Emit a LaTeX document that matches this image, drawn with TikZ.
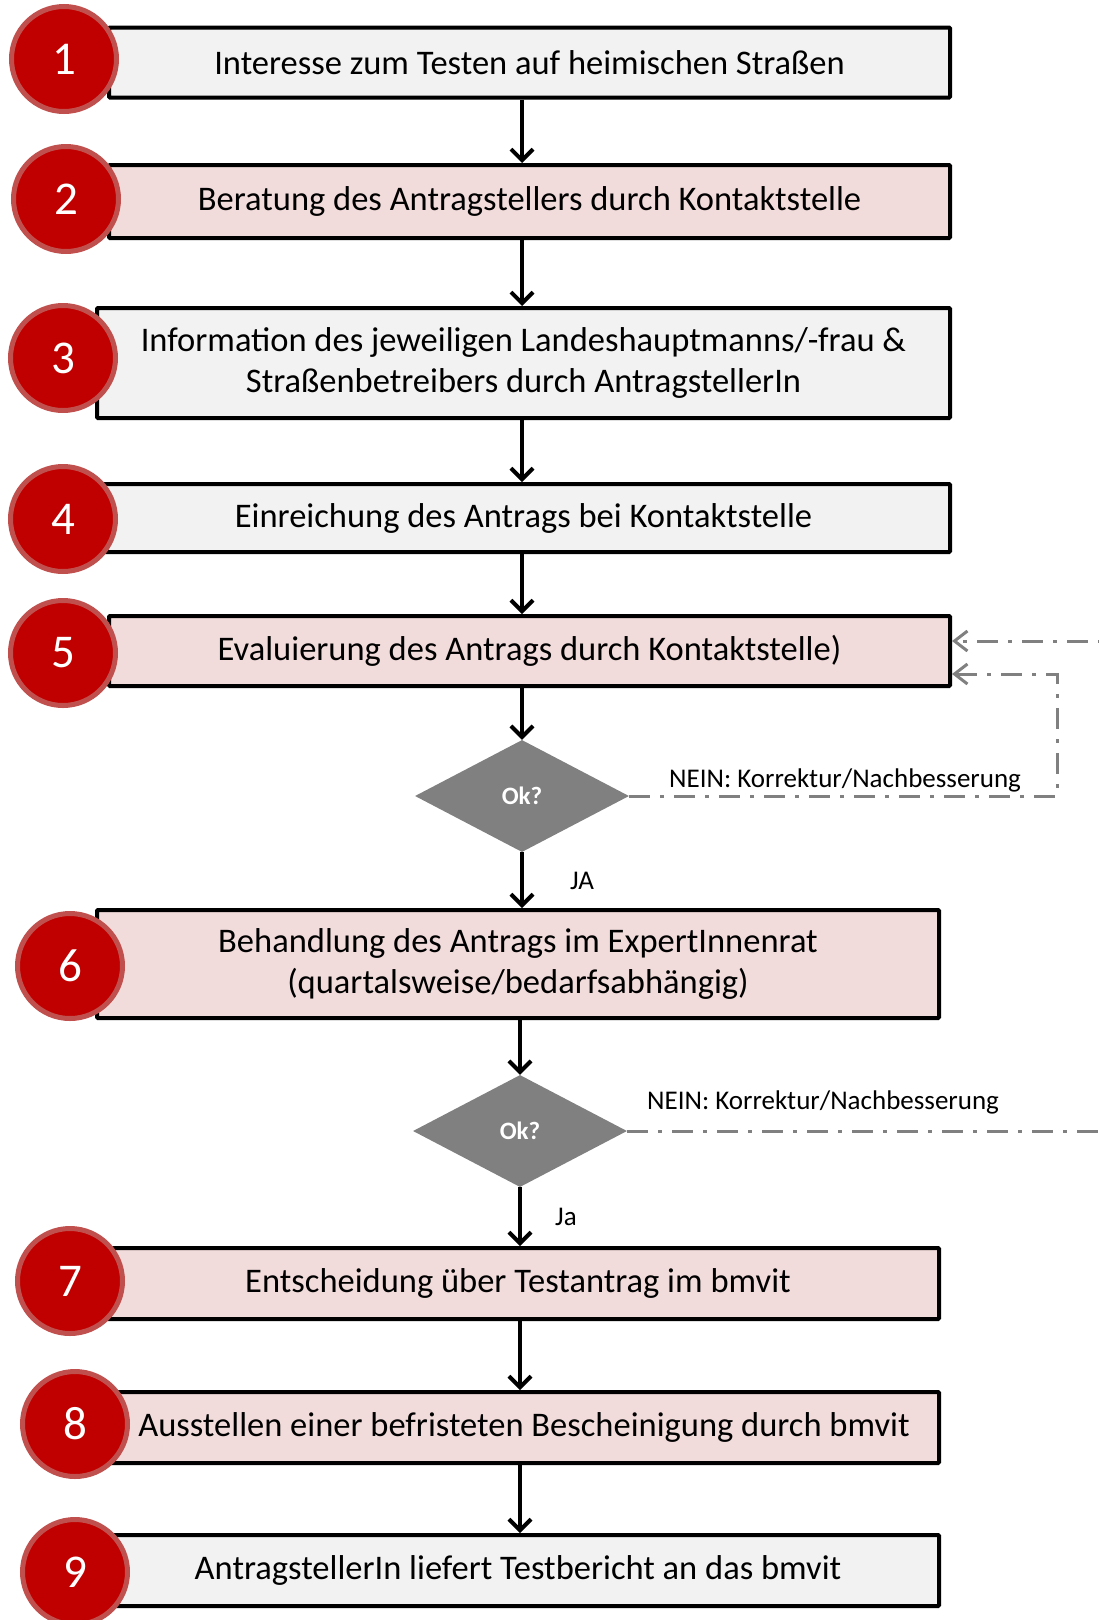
\documentclass[tikz,border=0pt]{standalone}
\usepackage{fontspec}
\setmainfont{Carlito}
\usetikzlibrary{shapes.geometric,arrows.meta}
\definecolor{boxgray}{HTML}{F2F2F2}
\definecolor{boxpink}{HTML}{F2DCDB}
\definecolor{numred}{HTML}{C00000}
\definecolor{numring}{HTML}{C0504D}
\definecolor{loopgray}{HTML}{808080}
\tikzset{
  stepbox/.style={draw=black,line width=4pt,rounded corners=1pt,inner sep=0pt,
    align=center,font=\fontsize{34.5}{41}\selectfont},
  graybox/.style={stepbox,fill=boxgray},
  pinkbox/.style={stepbox,fill=boxpink},
  numcircle/.style={circle,fill=numred,draw=numring,line width=5pt,minimum size=105pt,
    inner sep=0pt,text=white,font=\fontsize{47}{47}\selectfont},
  okdiamond/.style={diamond,fill=loopgray,inner sep=0pt,minimum width=214pt,minimum height=112pt,
    text=white,font=\fontsize{25}{25}\selectfont\bfseries},
  flow/.style={line width=4pt,-{Straight Barb[length=11pt,width=22pt]}},
  back/.style={loopgray,line width=3pt,dash pattern=on 21pt off 10pt on 4pt off 10pt,
    -{Straight Barb[length=13pt,width=20pt]}},
  note/.style={font=\fontsize{27}{27}\selectfont,inner sep=0pt}
}
\begin{document}
\begin{tikzpicture}[x=1pt,y=-1pt]
  \useasboundingbox (0,0) rectangle (1099,1620);
  \clip (0,0) rectangle (1099,1620);
  % steps
  \node[graybox,minimum width=841pt,minimum height=70pt] (b1) at (529.5,62.5) {Interesse zum Testen auf heimischen Straßen};
  \node[pinkbox,minimum width=841pt,minimum height=73pt] (b2) at (529.5,201.5) {Beratung des Antragstellers durch Kontaktstelle};
  \node[graybox,minimum width=853pt,minimum height=110pt] (b3) at (523.5,363) {Information des jeweiligen Landeshauptmanns/-frau \&\\Straßenbetreibers durch AntragstellerIn};
  \node[graybox,minimum width=853pt,minimum height=68pt] (b4) at (523.5,518) {Einreichung des Antrags bei Kontaktstelle};
  \node[pinkbox,minimum width=841pt,minimum height=70pt] (b5) at (529.5,651) {Evaluierung des Antrags durch Kontaktstelle)};
  \node[okdiamond] (d1) at (522,796) {Ok?};
  \node[pinkbox,minimum width=842pt,minimum height=108pt] (b6) at (518,964) {Behandlung des Antrags im ExpertInnenrat\\(quartalsweise/bedarfsabhängig)};
  \node[okdiamond] (d2) at (520,1131) {Ok?};
  \node[pinkbox,minimum width=842pt,minimum height=71pt] (b7) at (518,1283.5) {Entscheidung über Testantrag im bmvit};
  \node[pinkbox,minimum width=830pt,minimum height=71pt] (b8) at (524,1427.5) {Ausstellen einer befristeten Bescheinigung durch bmvit};
  \node[graybox,minimum width=842pt,minimum height=71pt] (b9) at (518,1570.5) {AntragstellerIn liefert Testbericht an das bmvit};
  % arrows
  \draw[flow] (b1.south -| d1.north) -- (b2.north -| d1.north);
  \draw[flow] (b2.south -| d1.north) -- (b3.north -| d1.north);
  \draw[flow] (b3.south -| d1.north) -- (b4.north -| d1.north);
  \draw[flow] (b4.south -| d1.north) -- (b5.north -| d1.north);
  \draw[flow] (b5.south -| d1.north) -- (d1.north);
  \draw[flow] (d1.south) -- (b6.north -| d1.south);
  \draw[flow] (b6.south -| d2.north) -- (d2.north);
  \draw[flow] (d2.south) -- (b7.north -| d2.south);
  \draw[flow] (b7.south -| d2.north) -- (b8.north -| d2.north);
  \draw[flow] (b8.south -| d2.north) -- (b9.north -| d2.north);
  \node[note] (ja1) at (582,881) {JA};
  \node[note] (ja2) at (566,1217) {Ja};
  % correction loops
  \coordinate (r1) at (1057,796);
  \coordinate (r2) at (1130,1131);
  \draw[back] (d1.east) -- (r1) |- ([yshift=-23pt]b5.east);
  \draw[back] (d2.east) -- (r2) |- ([yshift=10pt]b5.east);
  \node[note] (nein1) at (845,780) {NEIN: Korrektur/Nachbesserung};
  \node[note] (nein2) at (823,1102) {NEIN: Korrektur/Nachbesserung};
  % step numbers
  \foreach \n/\x/\y in {1/64/59,2/66/199,3/63/358,4/63/519,5/63/653,6/70/966,7/70/1281,8/75/1424,9/75/1572}
    \node[numcircle] (c\n) at (\x,\y) {\n};
\end{tikzpicture}
\end{document}
